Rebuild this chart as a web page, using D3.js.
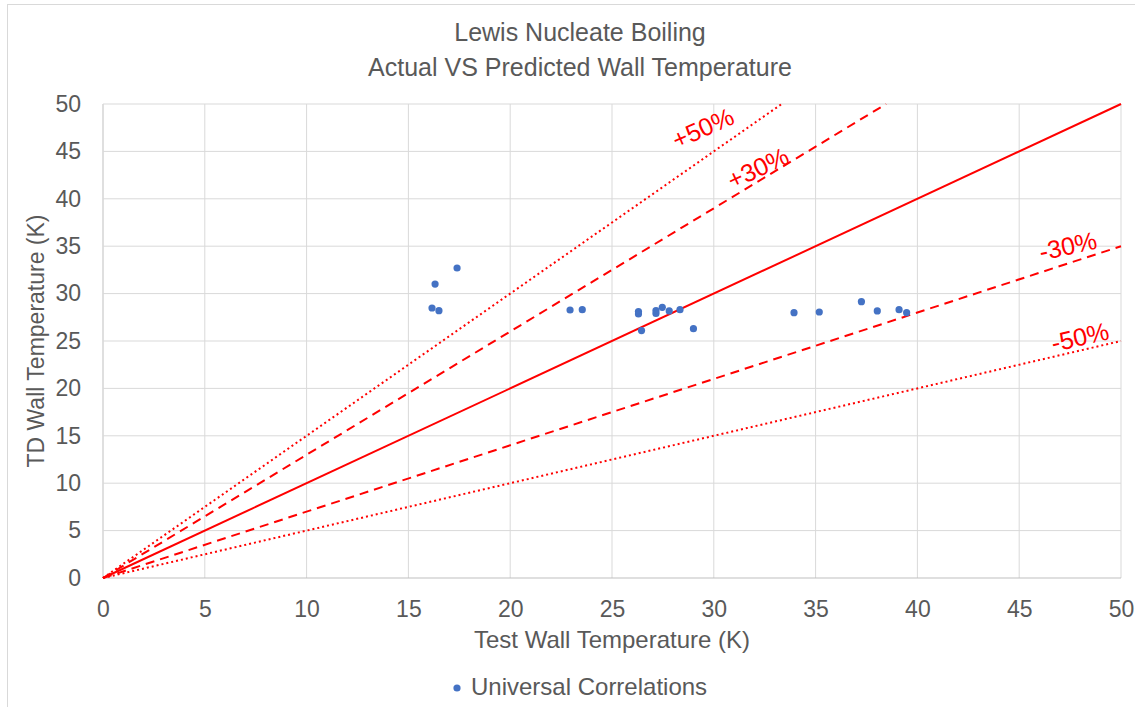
<!DOCTYPE html>
<html>
<head>
<meta charset="utf-8">
<script src="https://cdn.jsdelivr.net/npm/d3@7"></script>
<style>
body { margin: 0; background: #fff; }
text { font-family: "Liberation Sans", Arial, sans-serif; }
</style>
</head>
<body>
<script>
// data
var testTemp = [16.16, 16.31, 16.5, 17.39, 22.94, 23.54, 26.3, 26.3, 26.45, 27.16, 27.16, 27.47, 27.81, 28.34, 29.0,
                33.94, 35.18, 37.25, 38.03, 39.1, 39.47];
var tdTemp   = [28.48, 31.0, 28.2, 32.7, 28.27, 28.3, 28.1, 27.85, 26.1, 28.2, 27.9, 28.55, 28.17, 28.3, 26.3,
                27.99, 28.06, 29.15, 28.17, 28.3, 27.99];
var bandNames  = ["+50%", "+30%", "", "-30%", "-50%"];
var bandFactor = [1.5, 1.3, 1.0, 0.7, 0.5];
var xTicks = [0, 5, 10, 15, 20, 25, 30, 35, 40, 45, 50];
var yTicks = [0, 5, 10, 15, 20, 25, 30, 35, 40, 45, 50];

var width = 1135, height = 707;
var plotL = 103, plotR = 1121, plotT = 104, plotB = 578;

var svg = d3.select("body").append("svg")
    .attr("width", width)
    .attr("height", height);

// chart border
svg.append("rect")
    .attr("x", 7.5).attr("y", 4.5)
    .attr("width", width + 10).attr("height", height + 10)
    .attr("fill", "none").attr("stroke", "#d9d9d9");

var x = d3.scaleLinear().domain([0, 50]).range([plotL, plotR]);
var y = d3.scaleLinear().domain([0, 50]).range([plotB, plotT]);

// grid lines
svg.append("g").selectAll("line").data(xTicks).enter().append("line")
    .attr("x1", function(d) { return x(d); })
    .attr("x2", function(d) { return x(d); })
    .attr("y1", plotT).attr("y2", plotB)
    .attr("stroke", function(d) { return d == 0 ? "#bfbfbf" : "#d9d9d9"; })
    .attr("stroke-width", 1);

svg.append("g").selectAll("line").data(yTicks).enter().append("line")
    .attr("y1", function(d) { return y(d); })
    .attr("y2", function(d) { return y(d); })
    .attr("x1", plotL).attr("x2", plotR)
    .attr("stroke", function(d) { return d == 0 ? "#bfbfbf" : "#d9d9d9"; })
    .attr("stroke-width", 1);

// axes, labels only
var xAxis = svg.append("g")
    .attr("transform", "translate(0," + plotB + ")")
    .call(d3.axisBottom(x).tickValues(xTicks).tickSize(0));
xAxis.selectAll("text").attr("y", 31).attr("dy", "0.35em");
var yAxis = svg.append("g")
    .attr("transform", "translate(" + plotL + ",0)")
    .call(d3.axisLeft(y).tickValues(yTicks).tickSize(0).tickPadding(22));
[xAxis, yAxis].forEach(function(a) {
    a.select(".domain").remove();
    a.selectAll("text")
        .attr("fill", "#595959")
        .attr("font-size", "23px")
        .attr("font-family", "Liberation Sans, Arial, sans-serif");
});

// reference lines
var dashes = ["2,3", "9,6", null, "9,6", "2,3"];
bandFactor.forEach(function(f, i) {
    var xEnd = Math.min(50, 50 / f);
    svg.append("line")
        .attr("x1", x(0)).attr("y1", y(0))
        .attr("x2", x(xEnd)).attr("y2", y(xEnd * f))
        .attr("stroke", "#ff0000")
        .attr("stroke-width", 2)
        .attr("stroke-dasharray", dashes[i]);
});

// band labels
var labelPos = [[703, 128, -24], [758, 168, -25], null, [1068, 246, -12], [1080, 337, -13]];
bandNames.forEach(function(n, i) {
    if (!labelPos[i]) return;
    svg.append("text")
        .attr("transform", "translate(" + labelPos[i][0] + "," + labelPos[i][1] + ") rotate(" + labelPos[i][2] + ")")
        .attr("text-anchor", "middle")
        .attr("dy", "0.35em")
        .attr("fill", "#ff0000")
        .attr("font-size", "25px")
        .text(n);
});

// data points
svg.append("g").selectAll("circle").data(testTemp).enter().append("circle")
    .attr("cx", function(d) { return x(d); })
    .attr("cy", function(d, i) { return y(tdTemp[i]); })
    .attr("r", 3.6)
    .attr("fill", "#4472c4");

// titles
svg.append("text").attr("x", 580).attr("y", 41)
    .attr("text-anchor", "middle").attr("fill", "#595959").attr("font-size", "25px")
    .text("Lewis Nucleate Boiling");
svg.append("text").attr("x", 580).attr("y", 76)
    .attr("text-anchor", "middle").attr("fill", "#595959").attr("font-size", "25px")
    .text("Actual VS Predicted Wall Temperature");

svg.append("text").attr("x", 612).attr("y", 648)
    .attr("text-anchor", "middle").attr("fill", "#595959").attr("font-size", "24px")
    .text("Test Wall Temperature (K)");
svg.append("text")
    .attr("transform", "translate(44,341) rotate(-90)")
    .attr("text-anchor", "middle").attr("fill", "#595959").attr("font-size", "23px")
    .text("TD Wall Temperature (K)");

// legend
svg.append("circle").attr("cx", 457).attr("cy", 688).attr("r", 3.6).attr("fill", "#4472c4");
svg.append("text").attr("x", 471).attr("y", 695)
    .attr("fill", "#595959").attr("font-size", "24px")
    .text("Universal Correlations");
</script>
</body>
</html>
